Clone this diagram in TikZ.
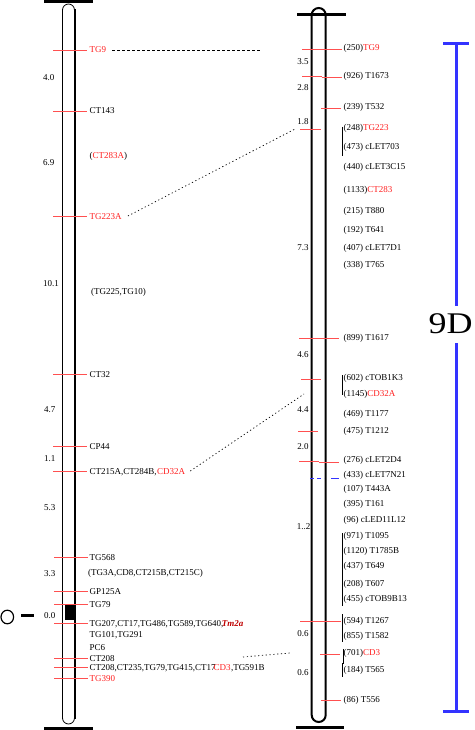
\documentclass[tikz,border=0pt]{standalone}
\usepackage{fontspec}
\usepackage{tikz}
\usetikzlibrary{positioning,calc}
\newfontfamily\mapfont{Liberation Serif}
\definecolor{mapred}{RGB}{255,30,30}
\definecolor{tickred}{RGB}{255,80,80}
\definecolor{barblue}{RGB}{51,51,255}
\definecolor{qtlred}{RGB}{190,0,0}

\begin{document}
\begin{tikzpicture}[x=1pt, y=-1pt,
      font=\mapfont\fontsize{9}{10}\selectfont,
      lab/.style={anchor=west, inner sep=0pt, text height=6pt, text depth=0pt},
      labr/.style={lab, text=mapred},
      dist/.style={lab},
      distr/.style={inner sep=0pt, text height=6pt, text depth=0pt},
      tick/.style={draw=tickred, line width=0.8pt},
      brk/.style={draw=black, line width=0.7pt},
      link/.style={draw=black, line width=0.7pt, dash pattern=on 1.2pt off 2.6pt},
      linkd/.style={draw=black, line width=0.7pt, dash pattern=on 3pt off 2pt},
      bar/.style={draw=barblue, line width=3pt}
    ]
    \useasboundingbox (0,0) rectangle (474,730);

    % ---- left map: chromosome body ----
    \draw[line width=0.8pt, rounded corners=6pt] (62.5,4) rectangle (74.5,724);
    \draw[line width=2pt] (74.5,9) -- (74.5,719);
    \draw[line width=3pt] (44,1.5) -- (93,1.5);
    \draw[line width=3pt] (44,728) -- (93,728);
    \fill (64.5,605) rectangle (74.5,620);
    \draw[line width=1.2pt] (7.3,617) ellipse [x radius=6.3, y radius=6.8];
    \draw[line width=3pt] (21,615) -- (34,615);

    % ---- left map: marker ticks ----
    \draw[tick] (53,50) -- (87,50);
    \draw[tick] (53,111) -- (87,111);
    \draw[tick] (53,216) -- (87,216);
    \draw[tick] (53,374) -- (87,374);
    \draw[tick] (53,446) -- (87,446);
    \draw[tick] (53,471) -- (87,471);
    \draw[tick] (54,557) -- (88,557);
    \draw[tick] (54,591) -- (88,591);
    \draw[tick] (54,604) -- (88,604);
    \draw[tick] (54,623) -- (88,623);
    \draw[tick] (54,658) -- (88,658);
    \draw[tick] (54,667) -- (88,667);
    \draw[tick] (54,678) -- (88,678);

    % ---- left map: marker names ----
    \node[labr] (l-tg9) at (89.5,50) {TG9};
    \node[lab] (l-ct143) at (89.5,111) {CT143};
    \node[lab] (l-ct283a) at (89.5,156) {(\textcolor{mapred}{CT283A})};
    \node[labr] (l-tg223a) at (89.5,216) {TG223A};
    \node[lab] (l-tg225) at (91,291) {(TG225,TG10)};
    \node[lab] (l-ct32) at (89.5,374) {CT32};
    \node[lab] (l-cp44) at (89.5,446) {CP44};
    \node[lab] (l-ct215a) at (89.5,471) {CT215A,CT284B,};
    \node[labr, right=0pt of l-ct215a] (l-cd32a) {CD32A};
    \node[lab] (l-tg568) at (89.5,557) {TG568};
    \node[lab] (l-tg3a) at (88,572) {(TG3A,CD8,CT215B,CT215C)};
    \node[lab] (l-gp125a) at (89.5,591) {GP125A};
    \node[lab] (l-tg79) at (89.5,604) {TG79};
    \node[lab] (l-tg207) at (89.5,623) {TG207,CT17,TG486,TG589,TG640,};
    \node[lab, text=qtlred, font=\mapfont\fontsize{9}{10}\selectfont\bfseries\itshape]
      (l-tm2a) at ([xshift=-2pt]l-tg207.east) {Tm2a};
    \node[lab] (l-tg101) at (89.5,634) {TG101,TG291};
    \node[lab] (l-pc6) at (89.5,647) {PC6};
    \node[lab] (l-ct208) at (89.5,658) {CT208};
    \node[lab] (l-ct208b) at (89.5,667) {CT208,CT235,TG79,TG415,CT17};
    \node[labr] (l-cd3) at ([xshift=-2.5pt]l-ct208b.east) {CD3};
    \node[lab, right=0pt of l-cd3] (l-tg591b) {,TG591B};
    \node[labr] (l-tg390) at (89.5,678) {TG390};

    % ---- left map: intervals (cM) ----
    \node[dist] (ld1) at (43,78) {4.0};
    \node[dist] (ld2) at (43,163) {6.9};
    \node[dist] (ld3) at (43,283) {10.1};
    \node[dist] (ld4) at (44,409) {4.7};
    \node[dist] (ld5) at (44,458) {1.1};
    \node[dist] (ld6) at (44,507) {5.3};
    \node[dist] (ld7) at (44,573) {3.3};
    \node[dist] (ld8) at (44,615) {0.0};

    % ---- right map: chromosome body ----
    \draw[line width=2pt, rounded corners=7pt] (311.7,8) rectangle (325.7,722);
    \draw[line width=3pt] (297,15) -- (346,15);
    \draw[line width=3pt] (296,727.5) -- (344,727.5);

    % ---- right map: ticks ----
    \draw[tick] (302,49) -- (342,49);
    \draw[tick] (302,76.3) -- (321.5,76.3);
    \draw[tick] (321.5,77.3) -- (342,77.3);
    \draw[tick] (321,108) -- (341,108);
    \draw[tick] (300,129) -- (321,129);
    \draw[tick] (299,338) -- (339,338);
    \draw[tick] (301,379) -- (321,379);
    \draw[tick] (298,431) -- (318,431);
    \draw[tick] (299,461) -- (319,461);
    \draw[tick] (319,462) -- (339,462);
    \draw[draw=barblue, line width=0.8pt, dash pattern=on 4pt off 3pt] (310,478.5) -- (324,478.5);
    \draw[draw=barblue, line width=0.8pt] (331,478) -- (339,478);
    \draw[tick] (300,621) -- (341,621);
    \draw[tick] (320,654) -- (340,654);
    \draw[tick] (321,700) -- (341,700);

    % ---- right map: brackets ----
    \draw[brk] (342.5,127) -- (342.5,156);
    \draw[brk] (342.5,375) -- (342.5,395);
    \draw[brk] (342,533) -- (342,606);
    \draw[brk] (342.5,614) -- (342.5,642);
    \draw[brk] (343,649) -- (343,663) -- (342.5,663) -- (342.5,677);

    % ---- right map: BAC sizes and names ----
    \node[lab] (r-tg9) at (343.5,48) {(250)\textcolor{mapred}{TG9}};
    \node[lab] (r-t1673) at (343.5,76) {(926) T1673};
    \node[lab] (r-t532) at (343.5,107) {(239) T532};
    \node[lab] (r-tg223) at (343.5,128) {(248)\textcolor{mapred}{TG223}};
    \node[lab] (r-clet703) at (343.5,147) {(473) cLET703};
    \node[lab] (r-clet3c15) at (343.5,167) {(440) cLET3C15};
    \node[lab] (r-ct283) at (343.5,189) {(1133)\textcolor{mapred}{CT283}};
    \node[lab] (r-t880) at (343.5,210) {(215) T880};
    \node[lab] (r-t641) at (343.5,229) {(192) T641};
    \node[lab] (r-clet7d1) at (343.5,247) {(407) cLET7D1};
    \node[lab] (r-t765) at (343.5,264) {(338) T765};
    \node[lab] (r-t1617) at (343.5,337) {(899) T1617};
    \node[lab] (r-ctob1k3) at (343.5,377) {(602) cTOB1K3};
    \node[lab] (r-cd32a) at (343.5,393) {(1145)\textcolor{mapred}{CD32A}};
    \node[lab] (r-t1177) at (343.5,413) {(469) T1177};
    \node[lab] (r-t1212) at (343.5,430) {(475) T1212};
    \node[lab] (r-clet2d4) at (343.5,459) {(276) cLET2D4};
    \node[lab] (r-clet7n21) at (343.5,474) {(433) cLET7N21};
    \node[lab] (r-t443a) at (343.5,488) {(107) T443A};
    \node[lab] (r-t161) at (343.5,503) {(395) T161};
    \node[lab] (r-cled11l12) at (343.5,519) {(96) cLED11L12};
    \node[lab] (r-t1095) at (343.5,535) {(971) T1095};
    \node[lab] (r-t1785b) at (343.5,550) {(1120) T1785B};
    \node[lab] (r-t649) at (343.5,565) {(437) T649};
    \node[lab] (r-t607) at (343.5,583) {(208) T607};
    \node[lab] (r-ctob9b13) at (343.5,598) {(455) cTOB9B13};
    \node[lab] (r-t1267) at (343.5,620) {(594) T1267};
    \node[lab] (r-t1582) at (343.5,635) {(855) T1582};
    \node[lab] (r-cd3) at (343.5,652) {(701)\textcolor{mapred}{CD3}};
    \node[lab] (r-t565) at (343.5,669) {(184) T565};
    \node[lab] (r-t556) at (343.5,699) {(86) T556};

    % ---- right map: intervals (cM) ----
    \node[distr] (rd1) at (303,62) {3.5};
    \node[distr] (rd2) at (303,88) {2.8};
    \node[distr] (rd3) at (303,122) {1.8};
    \node[distr] (rd4) at (303,247) {7.3};
    \node[distr] (rd5) at (303,354) {4.6};
    \node[distr] (rd6) at (303,409) {4.4};
    \node[distr] (rd7) at (303,446) {2.0};
    \node[distr] (rd8) at (303.5,526) {1..2};
    \node[distr] (rd9) at (303,633) {0.6};
    \node[distr] (rd10) at (303,672) {0.6};

    % ---- links between the two maps ----
    \coordinate (k-tg9) at (262,50);
    \coordinate (k-tg223) at (295,129);
    \coordinate (k-cd32a) at (304,394);
    \coordinate (k-cd3a) at (243,657);
    \coordinate (k-cd3b) at (290,653);
    \draw[linkd] ([xshift=6pt]l-tg9.east) -- (k-tg9);
    \draw[link] ([xshift=6pt]l-tg223a.east) -- (k-tg223);
    \draw[link] ([xshift=5pt]l-cd32a.east) -- (k-cd32a);
    \draw[link] (k-cd3a) -- (k-cd3b);

    % ---- chromosome arm bar ----
    \draw[bar] (456,44) -- (456,306);
    \draw[bar] (456,343) -- (456,711);
    \draw[bar] (443,44) -- (469,44);
    \draw[bar] (443,711) -- (469,711);
    \node[anchor=base, inner sep=0pt, font=\mapfont\fontsize{30}{30}\selectfont]
      (arm) at (450.5,333) {\scalebox{1.2}[1]{9D}};
  \end{tikzpicture}
\end{document}
